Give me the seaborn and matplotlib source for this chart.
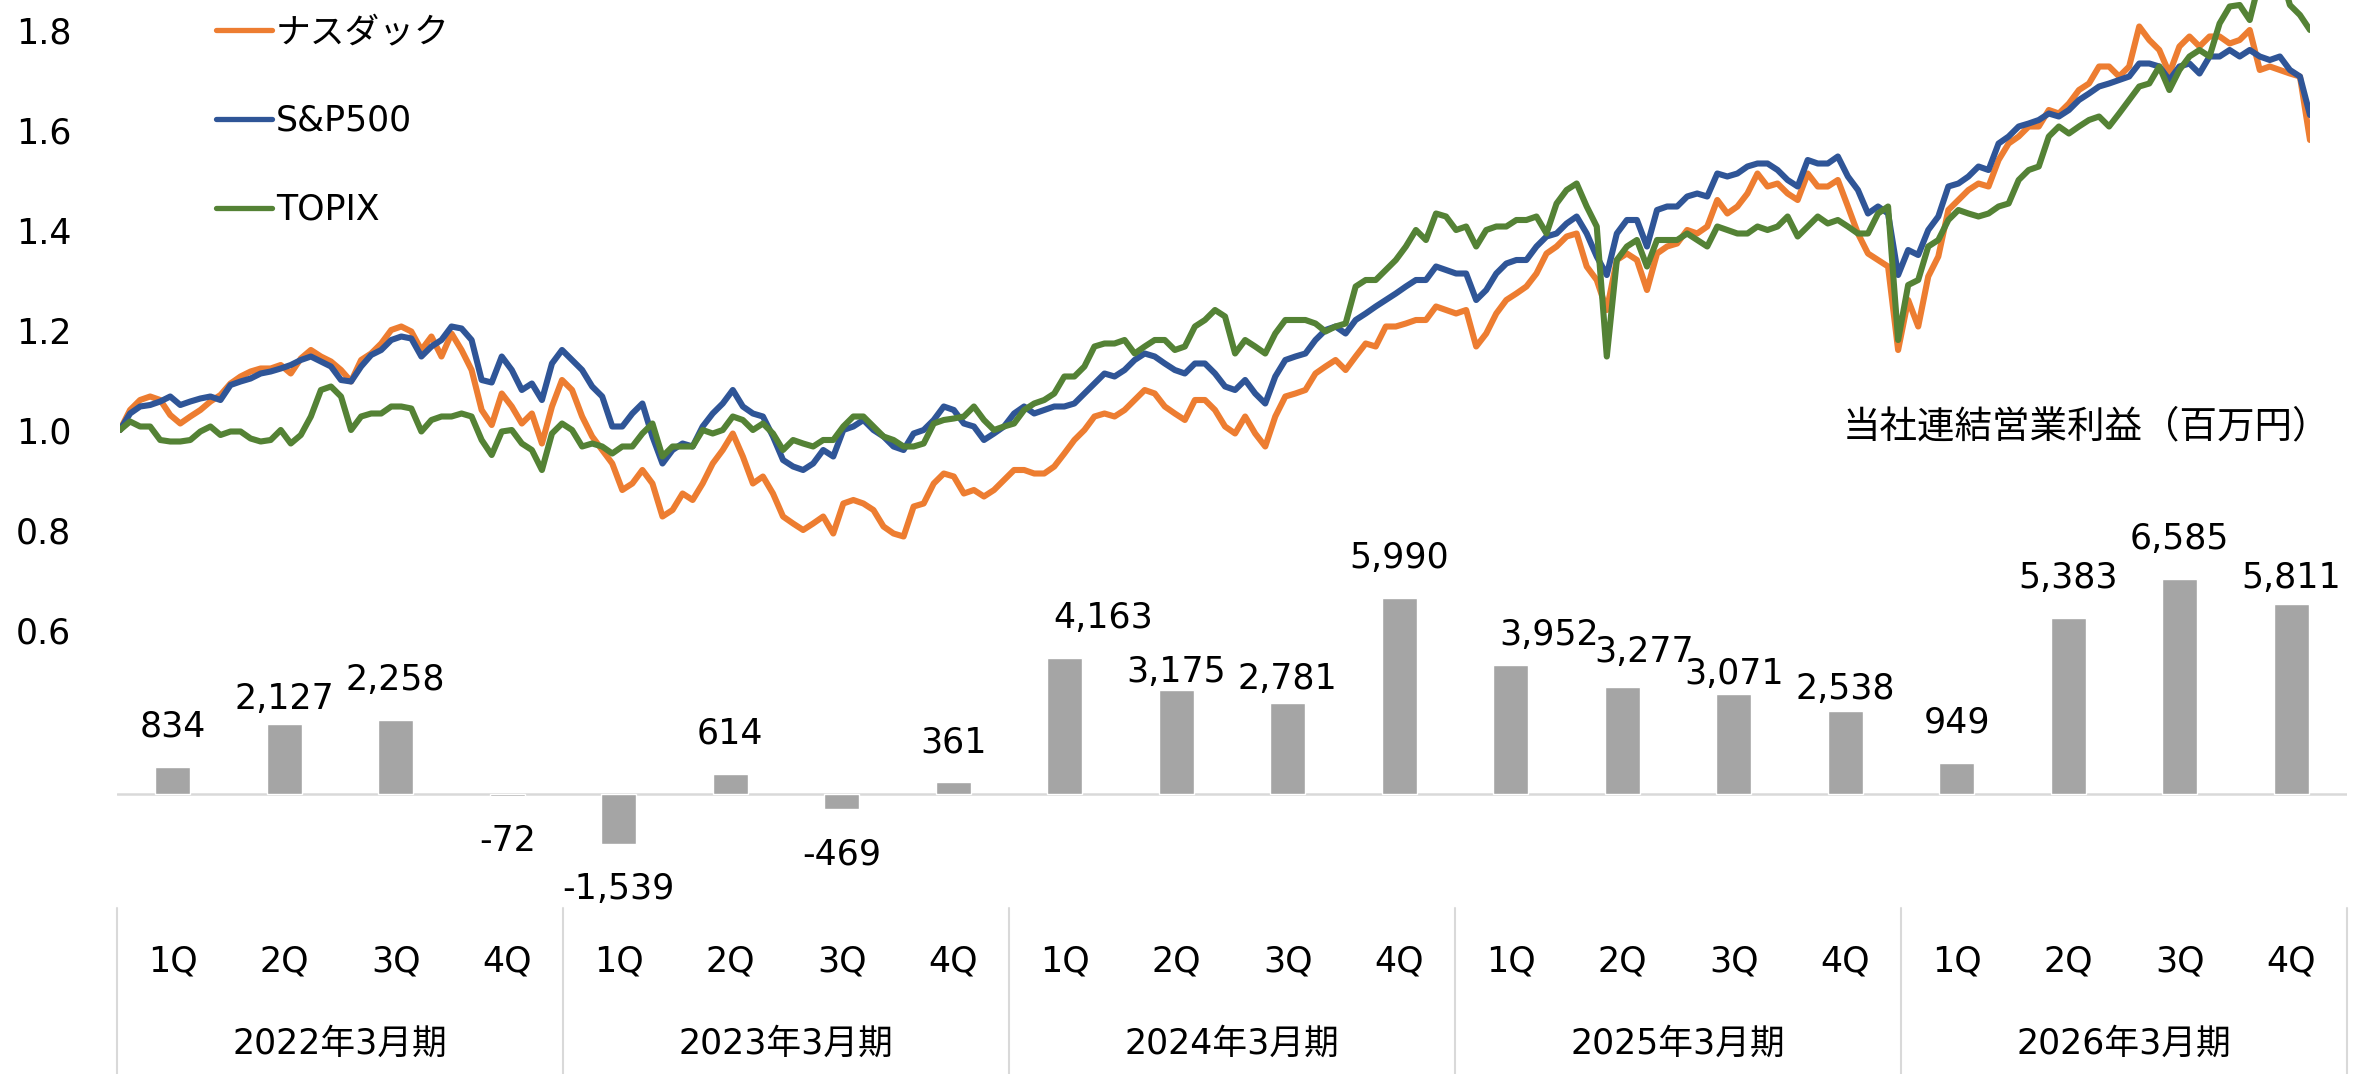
import numpy as np
import pandas as pd
import matplotlib
matplotlib.use("Agg")
import matplotlib.pyplot as plt
import seaborn as sns

# 決算期と四半期
fiscal_years = ["2022年3月期", "2023年3月期", "2024年3月期", "2025年3月期", "2026年3月期"]
quarters = ["1Q", "2Q", "3Q", "4Q"]

# 当社連結営業利益（百万円）
operating_profit = [834, 2127, 2258, -72,
                    -1539, 614, -469, 361,
                    4163, 3175, 2781, 5990,
                    3952, 3277, 3071, 2538,
                    949, 5383, 6585, 5811]

# 株価指数（起点=1.0）、約1週間ごとに読み取り
nasdaq = [1.00, 1.04, 1.06, 1.067, 1.06, 1.03, 1.013, 1.027, 1.04, 1.057,
          1.07, 1.093, 1.107, 1.117, 1.123, 1.123, 1.13, 1.113, 1.143, 1.16,
          1.147, 1.137, 1.12, 1.097, 1.14, 1.153, 1.173, 1.20, 1.207, 1.197,
          1.16, 1.187, 1.147, 1.193, 1.16, 1.12, 1.04, 1.01, 1.073, 1.047,
          1.013, 1.033, 0.973, 1.047, 1.10, 1.08, 1.027, 0.987, 0.96, 0.933,
          0.88, 0.893, 0.92, 0.893, 0.827, 0.84, 0.873, 0.86, 0.893, 0.933,
          0.96, 0.993, 0.947, 0.893, 0.907, 0.873, 0.827, 0.813, 0.80, 0.813,
          0.827, 0.793, 0.853, 0.86, 0.853, 0.84, 0.807, 0.793, 0.787, 0.847,
          0.853, 0.893, 0.913, 0.907, 0.873, 0.88, 0.867, 0.88, 0.90, 0.92,
          0.92, 0.913, 0.913, 0.927, 0.953, 0.98, 1.00, 1.027, 1.033, 1.027,
          1.04, 1.06, 1.08, 1.073, 1.047, 1.033, 1.02, 1.06, 1.06, 1.04,
          1.007, 0.993, 1.027, 0.993, 0.967, 1.027, 1.067, 1.073, 1.08, 1.113,
          1.127, 1.14, 1.12, 1.147, 1.173, 1.167, 1.207, 1.207, 1.213, 1.22,
          1.22, 1.247, 1.24, 1.233, 1.24, 1.167, 1.193, 1.233, 1.26, 1.273,
          1.287, 1.313, 1.353, 1.367, 1.387, 1.393, 1.327, 1.30, 1.24, 1.34,
          1.353, 1.34, 1.28, 1.353, 1.367, 1.373, 1.40, 1.393, 1.407, 1.46,
          1.433, 1.447, 1.473, 1.513, 1.487, 1.493, 1.473, 1.46, 1.513, 1.487,
          1.487, 1.50, 1.447, 1.393, 1.353, 1.34, 1.327, 1.16, 1.26, 1.207,
          1.307, 1.347, 1.44, 1.46, 1.48, 1.493, 1.487, 1.54, 1.573, 1.587,
          1.607, 1.607, 1.64, 1.633, 1.653, 1.68, 1.693, 1.727, 1.727, 1.707,
          1.727, 1.807, 1.78, 1.76, 1.713, 1.767, 1.787, 1.767, 1.787, 1.787,
          1.773, 1.78, 1.80, 1.72, 1.727, 1.72, 1.713, 1.707, 1.58]
sp500 = [1.00, 1.033, 1.047, 1.05, 1.057, 1.067, 1.05, 1.057, 1.063, 1.067,
         1.06, 1.09, 1.097, 1.103, 1.113, 1.117, 1.123, 1.13, 1.14, 1.147,
         1.137, 1.127, 1.10, 1.097, 1.127, 1.15, 1.16, 1.18, 1.187, 1.183,
         1.147, 1.167, 1.18, 1.207, 1.203, 1.18, 1.10, 1.095, 1.147, 1.12,
         1.08, 1.093, 1.06, 1.133, 1.16, 1.14, 1.12, 1.087, 1.067, 1.007,
         1.007, 1.033, 1.053, 0.987, 0.933, 0.96, 0.973, 0.967, 1.007, 1.033,
         1.053, 1.08, 1.047, 1.033, 1.027, 0.987, 0.94, 0.927, 0.92, 0.933,
         0.96, 0.947, 1.00, 1.007, 1.02, 1.00, 0.987, 0.967, 0.96, 0.993,
         1.00, 1.02, 1.047, 1.04, 1.013, 1.007, 0.98, 0.993, 1.007, 1.033,
         1.047, 1.033, 1.04, 1.047, 1.047, 1.053, 1.073, 1.093, 1.113, 1.107,
         1.12, 1.14, 1.153, 1.147, 1.133, 1.12, 1.113, 1.133, 1.133, 1.113,
         1.087, 1.08, 1.10, 1.073, 1.053, 1.107, 1.14, 1.147, 1.153, 1.18,
         1.20, 1.207, 1.193, 1.22, 1.233, 1.247, 1.26, 1.273, 1.287, 1.30,
         1.30, 1.327, 1.32, 1.313, 1.313, 1.26, 1.28, 1.313, 1.333, 1.34,
         1.34, 1.367, 1.387, 1.393, 1.413, 1.427, 1.393, 1.347, 1.31, 1.393,
         1.42, 1.42, 1.367, 1.44, 1.447, 1.447, 1.467, 1.473, 1.467, 1.513,
         1.507, 1.513, 1.527, 1.533, 1.533, 1.52, 1.50, 1.487, 1.54, 1.533,
         1.533, 1.547, 1.507, 1.48, 1.433, 1.447, 1.433, 1.31, 1.36, 1.35,
         1.40, 1.427, 1.487, 1.493, 1.507, 1.527, 1.52, 1.573, 1.587, 1.607,
         1.613, 1.62, 1.633, 1.627, 1.64, 1.66, 1.673, 1.687, 1.693, 1.70,
         1.707, 1.733, 1.733, 1.727, 1.70, 1.727, 1.733, 1.713, 1.747, 1.747,
         1.76, 1.747, 1.76, 1.747, 1.74, 1.747, 1.72, 1.707, 1.63]
topix = [1.00, 1.017, 1.007, 1.007, 0.98, 0.977, 0.977, 0.98, 0.997, 1.007,
         0.99, 0.997, 0.997, 0.983, 0.977, 0.98, 1.00, 0.973, 0.99, 1.027,
         1.08, 1.087, 1.067, 1.00, 1.027, 1.033, 1.033, 1.047, 1.047, 1.043,
         0.997, 1.02, 1.027, 1.027, 1.033, 1.027, 0.98, 0.95, 0.997, 1.00,
         0.973, 0.96, 0.92, 0.993, 1.013, 1.00, 0.967, 0.973, 0.967, 0.953,
         0.967, 0.967, 0.993, 1.013, 0.947, 0.967, 0.967, 0.967, 1.00, 0.993,
         1.00, 1.027, 1.02, 1.00, 1.013, 0.993, 0.96, 0.98, 0.973, 0.967,
         0.98, 0.98, 1.007, 1.027, 1.027, 1.007, 0.987, 0.98, 0.967, 0.967,
         0.973, 1.013, 1.02, 1.023, 1.027, 1.047, 1.02, 1.00, 1.007, 1.013,
         1.04, 1.053, 1.06, 1.073, 1.107, 1.107, 1.127, 1.167, 1.173, 1.173,
         1.18, 1.153, 1.167, 1.18, 1.18, 1.16, 1.167, 1.207, 1.22, 1.24,
         1.227, 1.153, 1.18, 1.167, 1.153, 1.193, 1.22, 1.22, 1.22, 1.213,
         1.197, 1.207, 1.213, 1.287, 1.30, 1.30, 1.32, 1.34, 1.367, 1.40,
         1.38, 1.433, 1.427, 1.40, 1.407, 1.367, 1.40, 1.407, 1.407, 1.42,
         1.42, 1.427, 1.393, 1.453, 1.48, 1.493, 1.447, 1.407, 1.147, 1.34,
         1.367, 1.38, 1.327, 1.38, 1.38, 1.38, 1.393, 1.38, 1.367, 1.407,
         1.40, 1.393, 1.393, 1.407, 1.40, 1.407, 1.427, 1.387, 1.407, 1.427,
         1.413, 1.42, 1.407, 1.393, 1.393, 1.433, 1.447, 1.18, 1.29, 1.30,
         1.367, 1.38, 1.42, 1.44, 1.433, 1.427, 1.433, 1.447, 1.453, 1.50,
         1.52, 1.527, 1.587, 1.607, 1.593, 1.607, 1.62, 1.627, 1.607, 1.633,
         1.66, 1.687, 1.693, 1.727, 1.68, 1.72, 1.747, 1.76, 1.747, 1.813,
         1.847, 1.85, 1.82, 1.90, 1.92, 1.92, 1.85, 1.83, 1.80]

series_names = ["ナスダック", "S&P500", "TOPIX"]
line_colors = ["#ED7D31", "#2F5597", "#548235"]
bar_color = "#A5A5A5"
axis_gray = "#D9D9D9"

sns.set_theme(style="white", rc={"text.color": "black", "ytick.color": "black"})
plt.rcParams["font.family"] = ["DejaVu Sans", "Noto Sans CJK JP"]
FS = 25

W, H = 2367, 1074
fig = plt.figure(figsize=(W / 100, H / 100), dpi=100)


def px_box(x0, y0, x1, y1):
    return [x0 / W, 1 - y1 / H, (x1 - x0) / W, (y1 - y0) / H]


AX_BOTTOM = 900  # px
ax_bar = fig.add_axes(px_box(117, 0, 2347, AX_BOTTOM))
ax_line = fig.add_axes(px_box(120, 0, 2310, AX_BOTTOM))
for a in (ax_bar, ax_line):
    a.set_facecolor("none")
    for s in a.spines.values():
        s.set_visible(False)

# 棒グラフ（営業利益）
periods = [f"{fy} {q}" for fy in fiscal_years for q in quarters]
df_bar = pd.DataFrame({"期間": periods, "営業利益": operating_profit})
sns.barplot(data=df_bar, x="期間", y="営業利益", color=bar_color, saturation=1,
            width=0.314, ax=ax_bar)
zero_px, px_per_k = 794, 32.7
ax_bar.set_xlim(-0.5, len(periods) - 0.5)
ax_bar.set_ylim(-(AX_BOTTOM - zero_px) / px_per_k * 1000, zero_px / px_per_k * 1000)
ax_bar.axhline(0, color=axis_gray, lw=1.8, zorder=0)
ax_bar.set_xticks([])
ax_bar.set_yticks([])
ax_bar.set_xlabel("")
ax_bar.set_ylabel("")

# データラベル（ずれはExcel上の手動調整に合わせる）
gap_px = [40, 25, 40, 45, 45, 40, 45, 40, 40, 18,
          24, 40, 30, 35, 20, 22, 40, 40, 40, 26]
shift_px = [0, 0, 0, 0, 0, 0, 0, 0, 38, 0,
            0, 0, 38, 22, 0, 0, 0, 0, 0, 0]
for i, v in enumerate(operating_profit):
    dy = gap_px[i] if v >= 0 else -gap_px[i]
    ax_bar.annotate(f"{v:,}", xy=(i, v), xytext=(shift_px[i] * 0.72, dy * 0.72),
                    textcoords="offset points", ha="center", va="center", fontsize=FS)

# 2段のカテゴリ軸
trans = ax_bar.get_xaxis_transform()
def ax_y(px):
    return (AX_BOTTOM - px) / AX_BOTTOM

for b in range(len(fiscal_years) + 1):
    xb = b * 4 - 0.5
    ax_bar.plot([xb, xb], [ax_y(908), ax_y(H)], transform=trans, color=axis_gray,
                lw=1.5, clip_on=False)
for i, p in enumerate(periods):
    ax_bar.text(i, ax_y(962), quarters[i % 4], transform=trans, ha="center",
                va="center", fontsize=FS)
for j, fy in enumerate(fiscal_years):
    ax_bar.text(4 * j + 1.5, ax_y(1044), fy, transform=trans, ha="center",
                va="center", fontsize=FS)

# 折れ線（株価指数）
dates = pd.date_range("2021-04-01", "2026-02-20", periods=len(nasdaq))
df_line = pd.DataFrame({
    "日付": np.tile(dates, 3),
    "指数": nasdaq + sp500 + topix,
    "系列": np.repeat(series_names, len(nasdaq)),
})
sns.lineplot(data=df_line, x="日付", y="指数", hue="系列", hue_order=series_names,
             palette=line_colors, linewidth=4.4, estimator=None, sort=False, ax=ax_line)
for ln in ax_line.lines:
    ln.set_solid_joinstyle("round")
    ln.set_solid_capstyle("round")
ax_line.set_xlim(dates[0], dates[-1])
ax_line.set_ylim(1 - (AX_BOTTOM - 430) / 500, 1 + 430 / 500)
yticks = [0.6, 0.8, 1.0, 1.2, 1.4, 1.6, 1.8]
ax_line.set_yticks(yticks)
ax_line.set_yticklabels([f"{t:.1f}" for t in yticks])
ax_line.tick_params(axis="y", length=0, pad=35, labelsize=FS)
ax_line.xaxis.set_visible(False)
ax_line.set_ylabel("")

leg = ax_line.legend(loc="upper left", bbox_to_anchor=(216 / W, 1 - 15 / H),
                     bbox_transform=fig.transFigure, frameon=False, fontsize=FS,
                     handlelength=1.6, handletextpad=0.12, labelspacing=1.58,
                     borderpad=0, borderaxespad=0)
for h in leg.get_lines():
    h.set_linewidth(3.8)
    h.set_solid_capstyle("round")

fig.text(1843 / W, 1 - 427 / H, "当社連結営業利益（百万円）", ha="left", va="center",
         fontsize=27)

fig.savefig("out.png", dpi=100)
